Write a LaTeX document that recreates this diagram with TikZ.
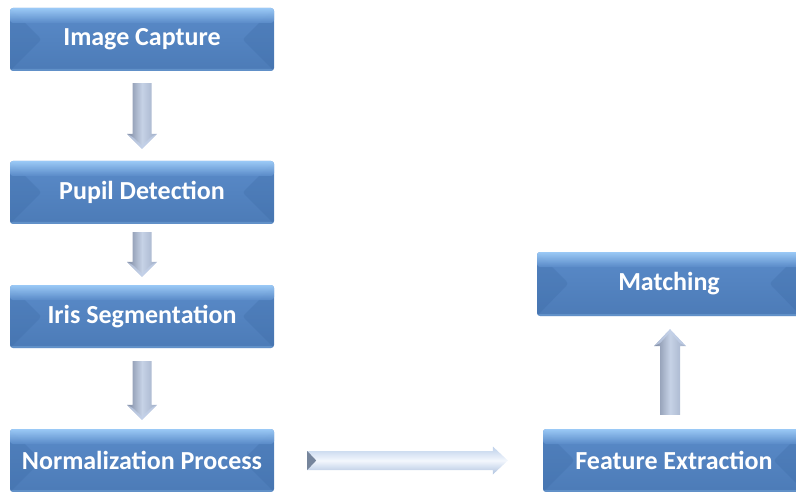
\documentclass[tikz,border=0pt]{standalone}
\usepackage{fontspec}
\setmainfont{Carlito}
\usetikzlibrary{calc}
\definecolor{boxlight}{HTML}{A2D0FB}
\definecolor{boxmid}{HTML}{5A8BC9}
\definecolor{boxbot}{HTML}{4C7BB7}
\definecolor{boxside}{HTML}{3C6AA5}
\definecolor{arrdark}{HTML}{7D89A1}
\definecolor{arrmid}{HTML}{C6D2E6}
\definecolor{arrright}{HTML}{A0AEC7}
\definecolor{arrhead}{HTML}{C3D1EA}
\definecolor{harrtop}{HTML}{BDD0EA}
\definecolor{harrmid}{HTML}{F3F7FD}
\definecolor{harrbot}{HTML}{AFC3E0}
\definecolor{harrtail}{HTML}{76859C}
\tikzset{
  bevbox/.style={rectangle, rounded corners=3pt, minimum height=63pt, inner sep=0pt,
    text=white, font=\bfseries\fontsize{26}{30}\selectfont,
    top color=boxmid, bottom color=boxbot,
    path picture={
      \fill[boxside, fill opacity=0.3]
        (path picture bounding box.north west) -- ++(31.5pt,-31.5pt)
        -- (path picture bounding box.south west) -- cycle;
      \fill[boxside, fill opacity=0.3]
        (path picture bounding box.north east) -- ++(-31.5pt,-31.5pt)
        -- (path picture bounding box.south east) -- cycle;
      \shade[top color=boxlight, bottom color=boxmid, fill opacity=0.9]
        (path picture bounding box.north west) rectangle
        ($(path picture bounding box.north east)+(0pt,-15pt)$);
      \fill[boxlight, fill opacity=0.25]
        (path picture bounding box.south west) rectangle
        ($(path picture bounding box.south east)+(0pt,2pt)$);
    }},
  varrow/.style={left color=arrdark, right color=arrright, middle color=arrmid},
  harrow/.style={top color=harrtop, bottom color=harrbot, middle color=harrmid},
}
\newcommand\blockdown[4]{%
  \shade[varrow] let \p1=($(#1.south)+(0pt,-#3pt)$), \p2=($(#2.north)+(0pt,#4pt)$) in
    (\x1-9.5pt,\y1) -- (\x1+9.5pt,\y1) -- (\x1+9.5pt,\y2+15pt) -- (\x1+15pt,\y2+15pt)
    -- (\x1,\y2) -- (\x1-15pt,\y2+15pt) -- (\x1-9.5pt,\y2+15pt) -- cycle;
  \fill[arrhead, fill opacity=0.7] let \p1=($(#1.south)+(0pt,-#3pt)$), \p2=($(#2.north)+(0pt,#4pt)$) in
    (\x1+15pt,\y2+15pt) -- (\x1,\y2) -- (\x1-15pt,\y2+15pt) -- (\x1-9.5pt,\y2+12pt) -- (\x1,\y2+3pt) -- (\x1+9.5pt,\y2+12pt) -- cycle;
}
\begin{document}
\begin{tikzpicture}[x=1pt,y=-1pt]
  \useasboundingbox (0,0) rectangle (796,492);
  \clip (0,0) rectangle (796,492);
  \node[bevbox, minimum width=264pt] (cap)  at (142,39.5)  {Image Capture};
  \node[bevbox, minimum width=264pt] (pup)  at (142,192.5) {Pupil Detection};
  \node[bevbox, minimum width=264pt] (iris) at (142,316.5) {Iris Segmentation};
  \node[bevbox, minimum width=264pt] (norm) at (142,460.5) {Normalization Process};
  \node[bevbox, minimum width=262pt] (feat) at (674,460.5) {Feature Extraction};
  \node[bevbox, minimum width=264pt, minimum height=64pt] (match) at (669,284) {Matching};
  % vertical block arrows
  \blockdown{cap}{pup}{12}{12}
  \blockdown{pup}{iris}{8}{8}
  \blockdown{iris}{norm}{13}{9}
  % horizontal arrow
  \shade[harrow] let \p1=($(norm.east)+(33pt,0pt)$), \p2=($(feat.west)+(-35pt,0pt)$) in
    (\x1,\y1+9.5pt) -- (\x2-15pt,\y1+9.5pt) -- (\x2-15pt,\y1+14pt) -- (\x2,\y1)
    -- (\x2-15pt,\y1-14pt) -- (\x2-15pt,\y1-9.5pt) -- (\x1,\y1-9.5pt) -- cycle;
  \fill[harrtail] let \p1=($(norm.east)+(33pt,0pt)$) in
    (\x1,\y1+9.5pt) -- (\x1+9pt,\y1) -- (\x1,\y1-9.5pt) -- cycle;
  % up arrow
  \shade[varrow] let \p1=($(feat.north)+(-4pt,14pt)$), \p2=($(match.south)+(0pt,-13pt)$) in
    (\x1-10pt,\y1) -- (\x1+10pt,\y1) -- (\x1+10pt,\y2-17pt) -- (\x1+16pt,\y2-17pt)
    -- (\x1,\y2) -- (\x1-16pt,\y2-17pt) -- (\x1-10pt,\y2-17pt) -- cycle;
  \fill[arrhead, fill opacity=0.7] let \p1=($(feat.north)+(-4pt,14pt)$), \p2=($(match.south)+(0pt,-13pt)$) in
    (\x1+16pt,\y2-17pt) -- (\x1,\y2) -- (\x1-16pt,\y2-17pt) -- (\x1-10pt,\y2-14pt) -- (\x1,\y2-3pt) -- (\x1+10pt,\y2-14pt) -- cycle;
\end{tikzpicture}
\end{document}
